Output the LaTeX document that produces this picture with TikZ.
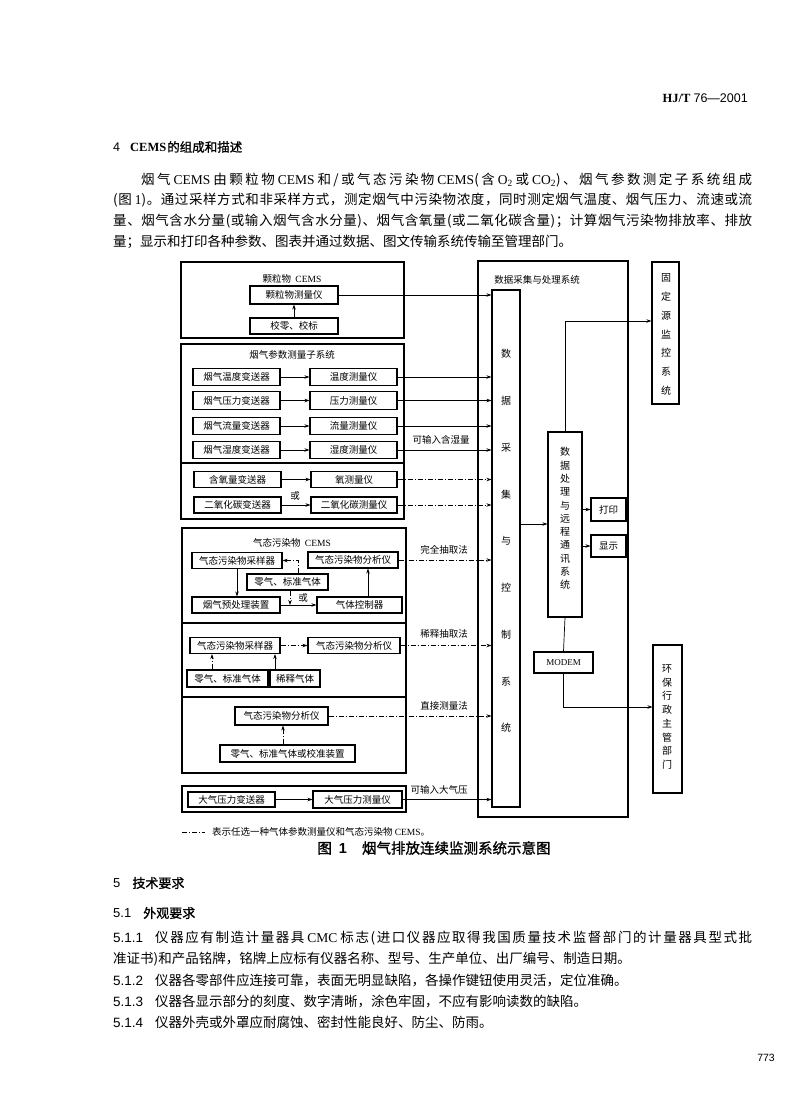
\documentclass[tikz,border=0pt]{standalone}
\usepackage{fontspec}
\setmainfont{Liberation Serif}
\newfontfamily\cjk{Noto Sans CJK SC}
\newfontfamily\cjkb{Noto Sans CJK SC}[FakeBold=1.2]
\newfontfamily\lat{Liberation Serif}
\newfontfamily\sns{Liberation Sans}
\newcount\cjkcnt
\cjkcnt="4E00
\loop \XeTeXcharclass\cjkcnt=7 \advance\cjkcnt by 1 \ifnum\cjkcnt<"A000 \repeat
\XeTeXcharclass"3001=7 \XeTeXcharclass"3002=7 \XeTeXcharclass"FF0C=7 \XeTeXcharclass"FF1B=7
\XeTeXinterchartoks 7 7 = {\hskip 0pt plus 1pt}
\XeTeXinterchartoks 7 0 = {\hskip 0pt plus 1pt}
\XeTeXinterchartoks 0 7 = {\hskip 0pt plus 1pt}
\usetikzlibrary{arrows.meta}
\newcommand\parline[5]{\node[anchor=west,inner sep=0pt,font=\cjk\fontsize{13.5}{16}\selectfont] (#1) at (#2,#3) {\XeTeXinterchartokenstate=1 \makebox[#4pt][s]{#5}};}
\begin{document}
\begin{tikzpicture}[x=1pt,y=-1pt,
 bx/.style={draw, line width=1.1pt, inner sep=0pt, font=\cjk\fontsize{9.5}{11}\selectfont},
 grp/.style={draw, line width=1.1pt, inner sep=0pt},
 lbl/.style={inner sep=0pt, font=\cjk\fontsize{9.5}{11}\selectfont},
 ar/.style={line width=0.7pt, -{Stealth[length=5pt,width=3.5pt]}},
 ln/.style={line width=0.7pt},
 dd/.style={dash pattern=on 5pt off 2pt on 1pt off 2pt},
 vtx/.style={inner sep=0pt, align=center},
 body/.style={anchor=west, inner sep=0pt, font=\cjk\fontsize{13.5}{16}\selectfont},
]
\fill[white] (0,0) rectangle (800,1110);
\useasboundingbox (0,0) rectangle (800,1110);

% header and section 4
\node[anchor=east, inner sep=0pt, font=\fontsize{12.5}{14}\selectfont] (hdr) at (748,98) {{\lat\bfseries HJ/T} {\sns 76—2001}};
\node[anchor=west, inner sep=0pt, font=\fontsize{12.5}{14}\selectfont] (h4) at (113,147) {{\sns 4}\kern10pt{\lat\bfseries CEMS}\kern1pt{\cjkb 的组成和描述}};

\parline{p1}{141}{180}{611}{烟气\kern3pt{\lat CEMS}\kern3pt 由颗粒物\kern3pt{\lat CEMS}\kern3pt 和/或气态污染物\kern3pt{\lat CEMS}(含\kern3pt{\lat O\textsubscript{2}}\kern3pt 或\kern3pt{\lat CO\textsubscript{2}})、烟气参数测定子系统组成}
\parline{p2}{113}{200.5}{639}{(图\kern3pt{\lat 1})。通过采样方式和非采样方式，测定烟气中污染物浓度，同时测定烟气温度、烟气压力、流速或流}
\parline{p3}{113}{221}{639}{量、烟气含水分量(或输入烟气含水分量)、烟气含氧量(或二氧化碳含量)；计算烟气污染物排放率、排放}
\node[body] (p4) at (113,241.5) {量；显示和打印各种参数、图表并通过数据、图文传输系统传输至管理部门。};

% ---------- particulate CEMS
\node[grp, minimum width=223pt, minimum height=76pt] (gP) at (292.5,300) {};
\node[lbl] (tP) at (292,279) {颗粒物\ \ {\lat CEMS}};
\node[bx, minimum width=88pt, minimum height=18pt] (pm) at (294,295) {颗粒物测量仪};
\node[bx, minimum width=88pt, minimum height=16pt] (pc) at (294,326) {校零、校标};
\draw[ar] (pc) -- (pm);

% ---------- flue gas parameters
\node[grp, minimum width=223pt, minimum height=175pt] (gQ) at (292.5,431.5) {};
\draw[grp] (gQ.west) ++(0,31.5) -- ++(223,0);
\node[lbl] (tQ) at (292,355) {烟气参数测量子系统};
\node[bx, minimum width=87pt, minimum height=17.5pt] (t1) at (236.5,377) {烟气温度变送器};
\node[bx, minimum width=87pt, minimum height=17.5pt] (m1) at (353.5,377) {温度测量仪};
\node[bx, minimum width=87pt, minimum height=17.5pt] (t2) at (236.5,400.5) {烟气压力变送器};
\node[bx, minimum width=87pt, minimum height=17.5pt] (m2) at (353.5,400.5) {压力测量仪};
\node[bx, minimum width=87pt, minimum height=17.5pt] (t3) at (236.5,426) {烟气流量变送器};
\node[bx, minimum width=87pt, minimum height=17.5pt] (m3) at (353.5,426) {流量测量仪};
\node[bx, minimum width=87pt, minimum height=17.5pt] (t4) at (236.5,450) {烟气湿度变送器};
\node[bx, minimum width=87pt, minimum height=17.5pt] (m4) at (353.5,450) {湿度测量仪};
\draw[ar] (t1) -- (m1);
\draw[ar] (t2) -- (m2);
\draw[ar] (t3) -- (m3);
\draw[ar] (t4) -- (m4);
\node[bx, minimum width=87pt, minimum height=16pt] (o1) at (237.5,479.5) {含氧量变送器};
\node[bx, minimum width=86pt, minimum height=16pt] (om1) at (354,479.5) {氧测量仪};
\node[bx, minimum width=87pt, minimum height=16pt] (o2) at (237.5,505) {二氧化碳变送器};
\node[bx, minimum width=86pt, minimum height=16pt] (om2) at (354,505) {二氧化碳测量仪};
\draw[ar] (o1) -- (om1);
\draw[ar] (o2) -- (om2);
\node[lbl] (or1) at (295,496) {或};

% ---------- gaseous pollutant CEMS
\node[grp, minimum width=224pt, minimum height=245pt] (gG) at (294,650.5) {};
\draw[grp] (gG.west) ++(0,-27.5) -- ++(224,0);
\draw[grp] (gG.west) ++(0,46.5) -- ++(224,0);
\node[lbl] (tG) at (292,543) {气态污染物\ \ {\lat CEMS}};
\node[bx, minimum width=90pt, minimum height=16pt] (s1) at (237,560.5) {气态污染物采样器};
\node[bx, minimum width=90pt, minimum height=16pt] (a1) at (353,560) {气态污染物分析仪};
\node[bx, minimum width=81pt, minimum height=16pt] (z1) at (287.5,582) {零气、标准气体};
\node[bx, minimum width=88pt, minimum height=16pt] (pre) at (236,605) {烟气预处理装置};
\node[bx, minimum width=85pt, minimum height=16pt] (ctl) at (359.5,605) {气体控制器};
\node[lbl] (or2) at (303,598) {或};
\draw[ar] (s1.south) -- (s1.south |- pre.north);
\draw[ar] (pre) -- (ctl);
\draw[ar,dd] ([xshift=2.5pt]z1.south) -- ([xshift=2.5pt]z1.south |- pre.east);
\draw[ar,dd] ([xshift=10.5pt]z1.north) |- (s1.east);
\draw[ar] ([xshift=8.5pt]ctl.north) -- ([xshift=8.5pt]ctl.north |- a1.south);

\node[bx, minimum width=90pt, minimum height=16pt] (s2) at (235,645.5) {气态污染物采样器};
\node[bx, minimum width=92pt, minimum height=16pt] (a2) at (354,645.5) {气态污染物分析仪};
\node[bx, minimum width=81pt, minimum height=17pt] (z2) at (227.5,678.5) {零气、标准气体};
\node[bx, minimum width=50pt, minimum height=17pt] (d2) at (295,678.5) {稀释气体};
\draw[ar,dd] (s2) -- (a2);
\draw[ar,dd] ([xshift=-15.5pt]z2.north) -- ([xshift=-15.5pt]z2.north |- s2.south);
\draw[ar] ([xshift=-20pt]d2.north) -- ([xshift=-20pt]d2.north |- s2.south);

\node[bx, minimum width=93pt, minimum height=18pt] (a3) at (281.5,716) {气态污染物分析仪};
\node[bx, minimum width=135pt, minimum height=17pt] (c3) at (287.5,753.5) {零气、标准气体或校准装置};
\draw[ar,dd] ([xshift=-4.5pt]c3.north) -- ([xshift=-4.5pt]c3.north |- a3.south);

% ---------- atmospheric pressure
\node[grp, minimum width=224pt, minimum height=26pt] (gA) at (294,799) {};
\node[bx, minimum width=87pt, minimum height=15pt] (t5) at (231.5,799.5) {大气压力变送器};
\node[bx, minimum width=89pt, minimum height=17pt] (m5) at (357.5,799.5) {大气压力测量仪};
\draw[ar] (t5) -- (m5);

% ---------- data acquisition and processing system
\node[grp, minimum width=150pt, minimum height=556pt] (gD) at (553,539) {};
\node[lbl] (tD) at (537,280) {数据采集与处理系统};
\node[bx, minimum width=28pt, minimum height=517pt] (col) at (506,548.5) {};
\node[vtx, font=\cjk\fontsize{10}{46.75}\selectfont] (colt) at (506,541) {数\\据\\采\\集\\与\\控\\制\\系\\统};
\node[bx, minimum width=34pt, minimum height=185pt] (proc) at (565,524.5) {};
\node[vtx, font=\cjk\fontsize{10}{13.3}\selectfont] (proct) at (565,518.5) {数\\据\\处\\理\\与\\远\\程\\通\\讯\\系\\统};
\node[bx, minimum width=35pt, minimum height=23pt] (prt) at (608.5,509.5) {打印};
\node[bx, minimum width=35pt, minimum height=22pt] (dsp) at (608.5,546) {显示};
\node[bx, minimum width=59pt, minimum height=21pt, font=\lat\fontsize{9}{10}\selectfont] (mdm) at (563.5,662.5) {MODEM};
\node[bx, minimum width=27pt, minimum height=142pt] (fix) at (665.5,333) {};
\node[vtx, font=\cjk\fontsize{10}{18.8}\selectfont] (fixt) at (666,334.5) {固\\定\\源\\监\\控\\系\\统};
\node[bx, minimum width=29pt, minimum height=148pt] (env) at (667.5,719) {};
\node[vtx, font=\cjk\fontsize{10}{13.7}\selectfont] (envt) at (667,717) {环\\保\\行\\政\\主\\管\\部\\门};

\draw[ar] ([yshift=24.5pt]col.east) -- ([yshift=24.5pt]col.east -| proc.west);
\draw[ar] (proc.east |- prt.west) -- (prt.west);
\draw[ar] (proc.east |- dsp.west) -- (dsp.west);
\draw[ar] (proc.north) |- ([yshift=12pt]fix.west);
\draw[ln] (proc.south) -- (mdm.north);
\draw[ar] (mdm.south) |- ([yshift=12pt]env.west);

% ---------- lines into the acquisition column
\draw[ar] (pm.east) -- (pm.east -| col.west);
\draw[ar] (m1.east) -- (m1.east -| col.west);
\draw[ar] (m2.east) -- (m2.east -| col.west);
\draw[ar] (m3.east) -- (m3.east -| col.west);
\draw[ar] (m4.east) -- (m4.east -| col.west);
\node[lbl] (l1) at (441,440) {可输入含湿量};
\draw[ar,dd] (om1.east) -- (om1.east -| col.west);
\draw[ar,dd] (om2.east) -- (om2.east -| col.west);
\draw[ar,dd] (a1.east) -- (a1.east -| col.west);
\node[lbl] (l2) at (444,550) {完全抽取法};
\draw[ar,dd] (a2.east) -- (a2.east -| col.west);
\node[lbl] (l3) at (444,634) {稀释抽取法};
\draw[ar,dd] (a3.east) -- (a3.east -| col.west);
\node[lbl] (l4) at (444,706) {直接测量法};
\draw[ar] (m5.east) -- (m5.east -| col.west);
\node[lbl] (l5) at (439,790) {可输入大气压};

% ---------- legend and caption
\coordinate (lg1) at (182,832);
\coordinate (lg2) at (205,832);
\draw[ln,dd] (lg1) -- (lg2);
\node[lbl, anchor=west] (lg) at (212,832) {表示任选一种气体参数测量仪和气态污染物 {\lat CEMS}。};
\node[inner sep=0pt, font=\fontsize{14.5}{16}\selectfont] (cap) at (434,848) {{\cjkb 图}\kern7pt{\sns\bfseries 1}\kern15pt{\cjkb 烟气排放连续监测系统示意图}};

% ---------- section 5
\node[anchor=west, inner sep=0pt, font=\fontsize{13}{15}\selectfont] (h5) at (113,883) {{\sns 5}\kern12pt{\cjkb 技术要求}};
\node[anchor=west, inner sep=0pt, font=\fontsize{13}{15}\selectfont] (h51) at (113,913) {{\sns 5.1}\kern12pt{\cjkb 外观要求}};
\parline{q1}{113}{938}{639}{{\sns 5.1.1}\kern12pt 仪器应有制造计量器具\kern3pt{\lat CMC}\kern3pt 标志(进口仪器应取得我国质量技术监督部门的计量器具型式批}
\node[body] (q2) at (113,959) {准证书)和产品铭牌，铭牌上应标有仪器名称、型号、生产单位、出厂编号、制造日期。};
\node[body] (q3) at (113,980) {{\sns 5.1.2}\kern12pt 仪器各零部件应连接可靠，表面无明显缺陷，各操作键钮使用灵活，定位准确。};
\node[body] (q4) at (113,1001) {{\sns 5.1.3}\kern12pt 仪器各显示部分的刻度、数字清晰，涂色牢固，不应有影响读数的缺陷。};
\node[body] (q5) at (113,1022) {{\sns 5.1.4}\kern12pt 仪器外壳或外罩应耐腐蚀、密封性能良好、防尘、防雨。};

\node[anchor=east, inner sep=0pt, font=\sns\fontsize{10.5}{12}\selectfont] (pg) at (775,1058) {773};
\end{tikzpicture}
\end{document}
